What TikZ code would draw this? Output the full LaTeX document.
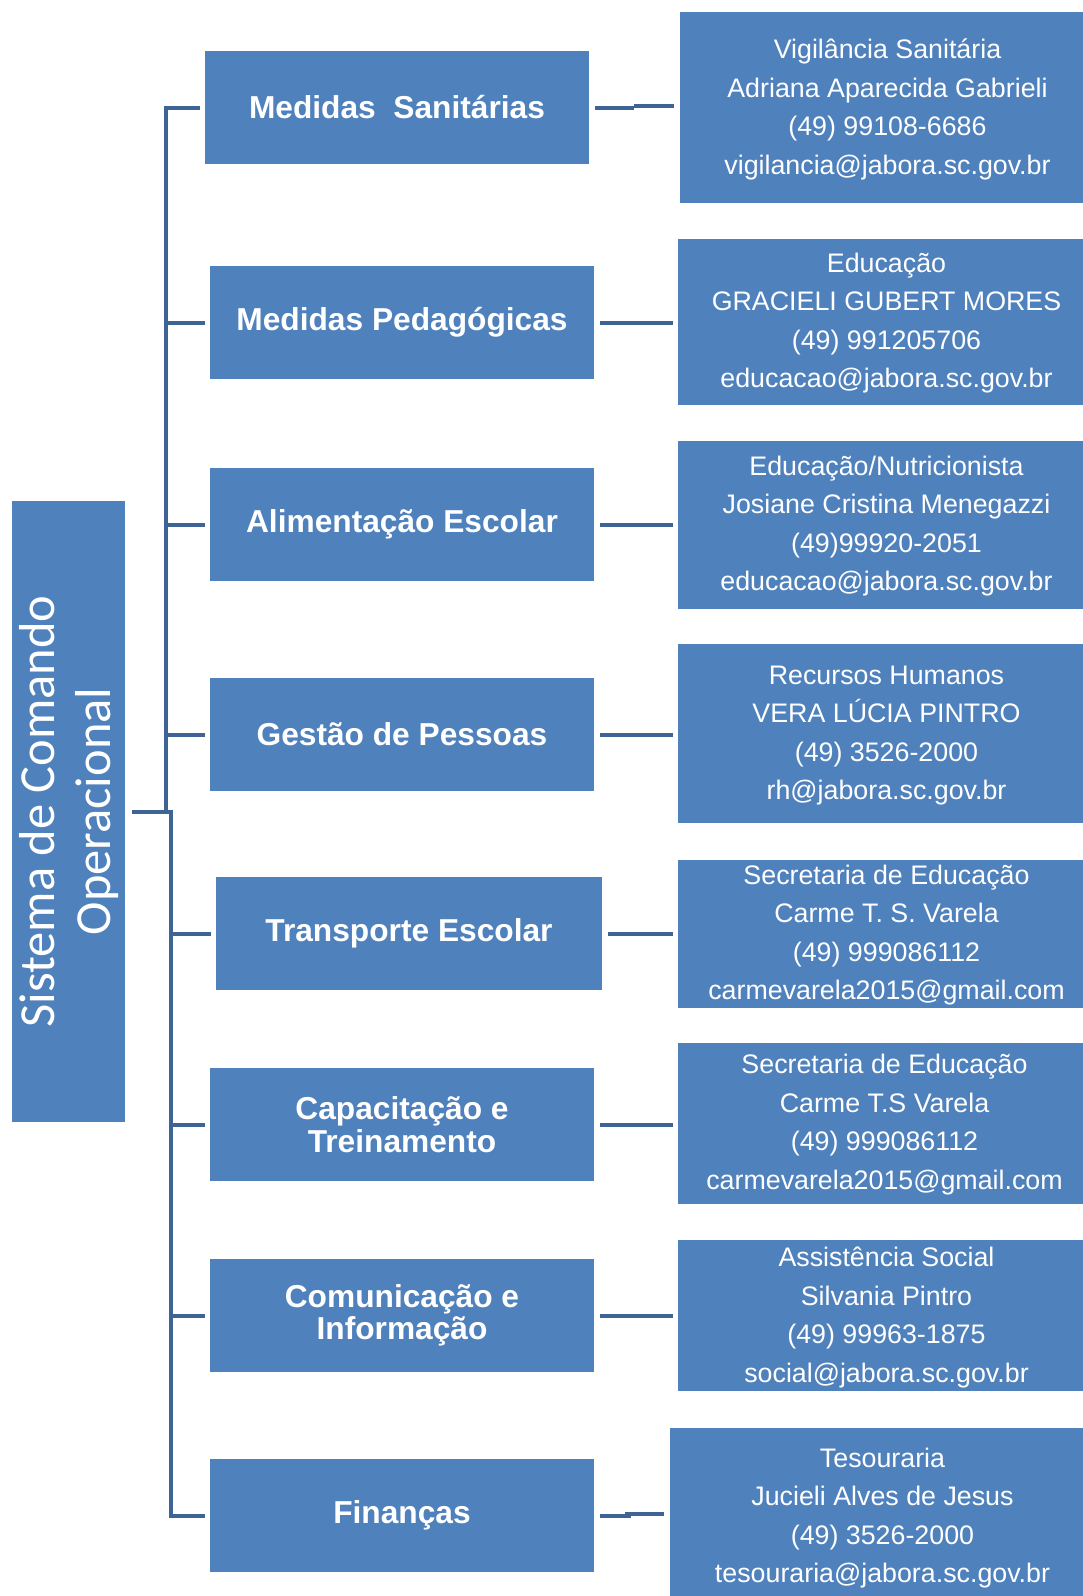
\documentclass[tikz,border=0pt]{standalone}
\usepackage{fontspec}
\setmainfont{Liberation Sans}
\newfontfamily\carlito{Carlito}
\definecolor{boxblue}{HTML}{4F81BD}
\definecolor{lineblue}{HTML}{3E6496}
\begin{document}
\begin{tikzpicture}[x=1pt,y=-1pt,
  midbox/.style={fill=boxblue, draw=none, minimum width=384pt, minimum height=113pt, inner sep=0pt, align=center, text=white, font=\fontsize{31.7}{32.5}\selectfont\bfseries},
  infobox/.style={fill=boxblue, draw=none, minimum width=405pt, inner sep=0pt},
  infotext/.style={inner sep=0pt, align=center, text=white, font=\fontsize{26.8}{38.4}\selectfont},
  mainbox/.style={fill=boxblue, draw=none, minimum width=113pt, minimum height=621pt, inner sep=0pt},
  maintext/.style={inner sep=0pt, align=center, text=white, rotate=90, font=\carlito\fontsize{50.5}{56}\selectfont},
  conn/.style={draw=lineblue, line width=4pt, line join=miter}]
\useasboundingbox[fill=white] (0,0) rectangle (1083,1596);

% main vertical box
\node[mainbox] (L) at (68.5,811.5) {};
\node[maintext] (Lt) at ([xshift=1pt]L.center) {Sistema de Comando\\Operacional};

% middle boxes
\node[midbox] (m1) at (397,107.5) {Medidas\ \ Sanitárias};
\node[midbox] (m2) at (402,322.5) {Medidas Pedagógicas};
\node[midbox] (m3) at (402,524.5) {Alimentação Escolar};
\node[midbox] (m4) at (402,734.5) {Gestão de Pessoas};
\node[midbox, minimum width=386pt] (m5) at (409,933.5) {Transporte Escolar};
\node[midbox] (m6) at (402,1124.5) {Capacitação e\\Treinamento};
\node[midbox] (m7) at (402,1315.5) {Comunicação e\\Informação};
\node[midbox] (m8) at (402,1515.5) {Finanças};

% right boxes
\node[infobox, minimum width=403pt, minimum height=191pt] (r1) at (881.5,107.5) {};
\node[infobox, minimum height=166pt] (r2) at (880.5,322) {};
\node[infobox, minimum height=168pt] (r3) at (880.5,525) {};
\node[infobox, minimum height=179pt] (r4) at (880.5,733.5) {};
\node[infobox, minimum height=148pt] (r5) at (880.5,934) {};
\node[infobox, minimum height=161pt] (r6) at (880.5,1123.5) {};
\node[infobox, minimum height=151pt] (r7) at (880.5,1315.5) {};
\node[infobox, minimum width=413pt, minimum height=168pt] (r8) at (876.5,1512) {};

\node[infotext] (t1) at ([xshift=6pt,yshift=-2pt]r1.center) {Vigilância Sanitária\\Adriana Aparecida Gabrieli\\(49) 99108-6686\\vigilancia@jabora.sc.gov.br};
\node[infotext] (t2) at ([xshift=6pt,yshift=-1pt]r2.center) {Educação\\GRACIELI GUBERT MORES\\(49) 991205706\\educacao@jabora.sc.gov.br};
\node[infotext] (t3) at ([xshift=6pt,yshift=-1pt]r3.center) {Educação/Nutricionista\\Josiane Cristina Menegazzi\\(49)99920-2051\\educacao@jabora.sc.gov.br};
\node[infotext] (t4) at ([xshift=6pt,yshift=-2pt]r4.center) {Recursos Humanos\\VERA LÚCIA PINTRO\\(49) 3526-2000\\rh@jabora.sc.gov.br};
\node[infotext] (t5) at ([xshift=6pt,yshift=-1pt]r5.center) {Secretaria de Educação\\Carme T. S. Varela\\(49) 999086112\\carmevarela2015@gmail.com};
\node[infotext] (t6) at ([xshift=4pt,yshift=-1pt]r6.center) {Secretaria de Educação\\Carme T.S Varela\\(49) 999086112\\carmevarela2015@gmail.com};
\node[infotext] (t7) at ([xshift=6pt,yshift=-2pt]r7.center) {Assistência Social\\Silvania Pintro\\(49) 99963-1875\\social@jabora.sc.gov.br};
\node[infotext] (t8) at ([xshift=6pt,yshift=-6pt]r8.center) {Tesouraria\\Jucieli Alves de Jesus\\(49) 3526-2000\\tesouraria@jabora.sc.gov.br};

% bus coordinates
\coordinate (busA) at (166,0);
\coordinate (busB) at (171,0);

% bus with top and bottom stubs
\draw[conn, shorten <=5pt] (m1.west) -- (m1.west -| busA) -- (L.east -| busA);
\draw[conn, shorten <=5pt] (m8.west) -- (m8.west -| busB) -- (L.east -| busB);
\draw[conn, shorten <=7pt] (L.east) -- ([xshift=2pt]L.east -| busB);

% left stubs
\foreach \m in {m2,m3,m4}{\draw[conn, shorten <=5pt] (\m.west) -- (\m.west -| busA);}
\foreach \m in {m5,m6,m7}{\draw[conn, shorten <=5pt] (\m.west) -- (\m.west -| busB);}

% right connectors
\draw[conn, shorten <=6pt] (m1.east) -- ++(45,0);
\draw[conn, shorten <=6pt] ([yshift=2pt]r1.west) -- ++(-46,0);
\foreach \i in {2,...,7}{\draw[conn, shorten <=6pt, shorten >=5pt] (m\i.east) -- (m\i.east -| r\i.west);}
\draw[conn, shorten <=6pt] (m8.east) -- ++(37,0);
\draw[conn, shorten <=6pt] ([yshift=-2pt]r8.west) -- ++(-45,0);
\end{tikzpicture}
\end{document}
